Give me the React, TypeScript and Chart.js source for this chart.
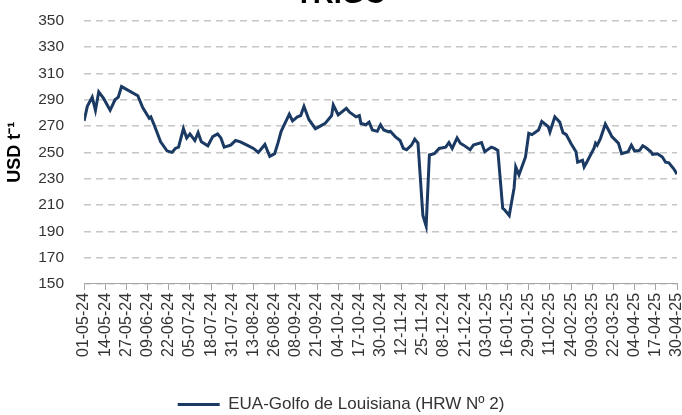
import React, { useEffect, useRef } from "react";
import { Chart, registerables } from "chart.js";

Chart.register(...registerables);

const dates: string[] = [
  "2024-05-01","2024-05-03","2024-05-06","2024-05-08","2024-05-10","2024-05-13","2024-05-17","2024-05-20","2024-05-22","2024-05-24",
  "2024-06-03","2024-06-06","2024-06-10","2024-06-11","2024-06-13","2024-06-17","2024-06-21","2024-06-24","2024-06-26","2024-06-28",
  "2024-07-01","2024-07-03","2024-07-05","2024-07-08","2024-07-10","2024-07-12","2024-07-16","2024-07-19","2024-07-22","2024-07-24",
  "2024-07-26","2024-07-30","2024-08-02","2024-08-05","2024-08-09","2024-08-13","2024-08-16","2024-08-20","2024-08-23","2024-08-26",
  "2024-08-28","2024-08-30","2024-09-04","2024-09-06","2024-09-09","2024-09-11","2024-09-13","2024-09-16","2024-09-20","2024-09-23",
  "2024-09-26","2024-09-30","2024-10-01","2024-10-04","2024-10-09","2024-10-11","2024-10-15","2024-10-17","2024-10-18","2024-10-21",
  "2024-10-23","2024-10-25","2024-10-28","2024-10-30","2024-11-01","2024-11-04","2024-11-05","2024-11-08","2024-11-11","2024-11-13",
  "2024-11-15","2024-11-18","2024-11-20","2024-11-22","2024-11-25","2024-11-27","2024-11-29","2024-12-02","2024-12-05","2024-12-09",
  "2024-12-11","2024-12-13","2024-12-16","2024-12-18","2024-12-20","2024-12-24","2024-12-26","2024-12-31","2025-01-02","2025-01-06",
  "2025-01-08","2025-01-10","2025-01-13","2025-01-14","2025-01-17","2025-01-20","2025-01-21","2025-01-23","2025-01-27","2025-01-29",
  "2025-01-31","2025-02-04","2025-02-06","2025-02-10","2025-02-11","2025-02-14","2025-02-17","2025-02-19","2025-02-21","2025-02-24",
  "2025-02-27","2025-02-28","2025-03-03","2025-03-04","2025-03-06","2025-03-10","2025-03-11","2025-03-12","2025-03-14","2025-03-17",
  "2025-03-20","2025-03-21","2025-03-25","2025-03-27","2025-03-31","2025-04-02","2025-04-04","2025-04-07","2025-04-09","2025-04-11",
  "2025-04-14","2025-04-15","2025-04-18","2025-04-21","2025-04-23","2025-04-25","2025-04-28","2025-04-30"
];

const prices: number[] = [
  274, 285, 292, 282, 296, 291, 282, 290, 292, 300,
  293, 284, 276, 277, 271, 258, 251, 250, 253, 254,
  268, 261, 264, 259, 265, 258, 255, 262, 264, 261,
  254, 255.5, 259, 258, 255.5, 253, 250, 256, 247, 249,
  257, 266, 279, 274, 277, 278, 285, 275, 268, 270,
  272, 278, 286, 278.5, 283.5, 280.5, 277, 278, 272, 271,
  273, 267, 266, 271, 267, 265.5, 266, 262, 259, 253,
  252, 255.5, 260, 257, 202, 194, 248, 249, 253, 254,
  257.5, 253, 261, 257, 255.5, 252, 255.5, 257.5, 250.5, 254,
  253, 251.5, 207.5, 206.5, 202, 223, 239, 233, 246.5, 264.5,
  263.5, 267, 273.5, 269.5, 265.5, 277, 273, 265, 263.5, 256.5,
  250.5, 242.5, 244, 239, 243.5, 253, 257, 255.5, 260.5, 271.5,
  264.5, 262, 257, 249, 250.5, 255.5, 251, 251.5, 255, 253.5,
  250.5, 248.5, 249, 246.5, 242.5, 242, 237.5, 233.5
];

const startDate = "2024-05-01";
const tickStepDays = 13;
const totalDays = 364;
const yTicks = { min: 150, max: 350, step: 20 };
const seriesLabel = "EUA-Golfo de Louisiana (HRW Nº 2)";
const chartTitle = "TRIGO";
const yTitle = "USD t⁻¹";

const DAY = 86400000;
const dayIndex = (iso: string) =>
  Math.round((Date.parse(iso + "T00:00:00Z") - Date.parse(startDate + "T00:00:00Z")) / DAY);
const fmt = (d: number) => {
  const dt = new Date(Date.parse(startDate + "T00:00:00Z") + d * DAY);
  const dd = String(dt.getUTCDate()).padStart(2, "0");
  const mm = String(dt.getUTCMonth() + 1).padStart(2, "0");
  const yy = String(dt.getUTCFullYear() % 100).padStart(2, "0");
  return `${dd}-${mm}-${yy}`;
};

const FONT = "'Liberation Sans', Arial, sans-serif";
const TOP_SHIFT = 22;

export default function App() {
  const ref = useRef<HTMLCanvasElement | null>(null);
  useEffect(() => {
    if (!ref.current) return;
    const points = dates.map((d, i) => ({ x: dayIndex(d), y: prices[i] }));
    const chart = new Chart(ref.current, {
      type: "line",
      data: {
        datasets: [
          {
            label: seriesLabel,
            data: points,
            borderColor: "#1b3a63",
            backgroundColor: "#1b3a63",
            borderWidth: 3,
            pointRadius: 0,
            tension: 0,
            fill: false,
          },
        ],
      },
      options: {
        animation: false,
        responsive: true,
        maintainAspectRatio: false,
        layout: { padding: { left: 0, right: 0, top: 0, bottom: -8 } },
        plugins: {
          title: {
            display: true,
            text: chartTitle,
            color: "#000",
            font: { family: FONT, size: 29, weight: "bold" },
            padding: { top: 0, bottom: 8 },
          },
          legend: {
            display: true,
            position: "bottom",
            labels: {
              usePointStyle: true,
              pointStyle: "line",
              pointStyleWidth: 42,
              color: "#333",
              font: { family: FONT, size: 17 },
              padding: 4,
            },
          },
          tooltip: { enabled: false },
        },
        scales: {
          x: {
            type: "linear",
            min: 0,
            max: totalDays,
            afterFit: (scale: any) => {
              scale.paddingRight = 5;
            },
            ticks: {
              stepSize: tickStepDays,
              autoSkip: false,
              maxRotation: 90,
              minRotation: 90,
              color: "#333",
              font: { family: FONT, size: 16 },
              padding: 3,
              callback: (v: any) => fmt(Number(v)),
            },
            grid: {
              drawOnChartArea: false,
              drawTicks: true,
              tickLength: 6,
              color: "#a6a6a6",
              lineWidth: 1,
            },
            border: { display: true, color: "#a6a6a6", width: 1 },
            title: {
              display: true,
              text: " ",
              font: { family: FONT, size: 10 },
              padding: { top: 0, bottom: 20 },
            },
          },
          y: {
            min: yTicks.min,
            max: yTicks.max,
            ticks: {
              stepSize: yTicks.step,
              color: "#333",
              font: { family: FONT, size: 15.5 },
              padding: 20,
            },
            grid: {
              drawTicks: false,
              color: "#c6c6c6",
              lineWidth: 1.5,
            },
            border: { display: false, dash: [7, 5] },
            title: {
              display: true,
              text: yTitle,
              color: "#000",
              font: { family: FONT, size: 18, weight: "bold" },
              padding: { top: 4, bottom: -7.4 },
            },
          },
        },
      },
    });
    return () => chart.destroy();
  }, []);
  return (
    <div
      style={{
        position: "fixed",
        left: 0,
        top: -TOP_SHIFT,
        width: 682,
        height: 415 + TOP_SHIFT,
      }}
    >
      <canvas ref={ref} />
    </div>
  );
}
